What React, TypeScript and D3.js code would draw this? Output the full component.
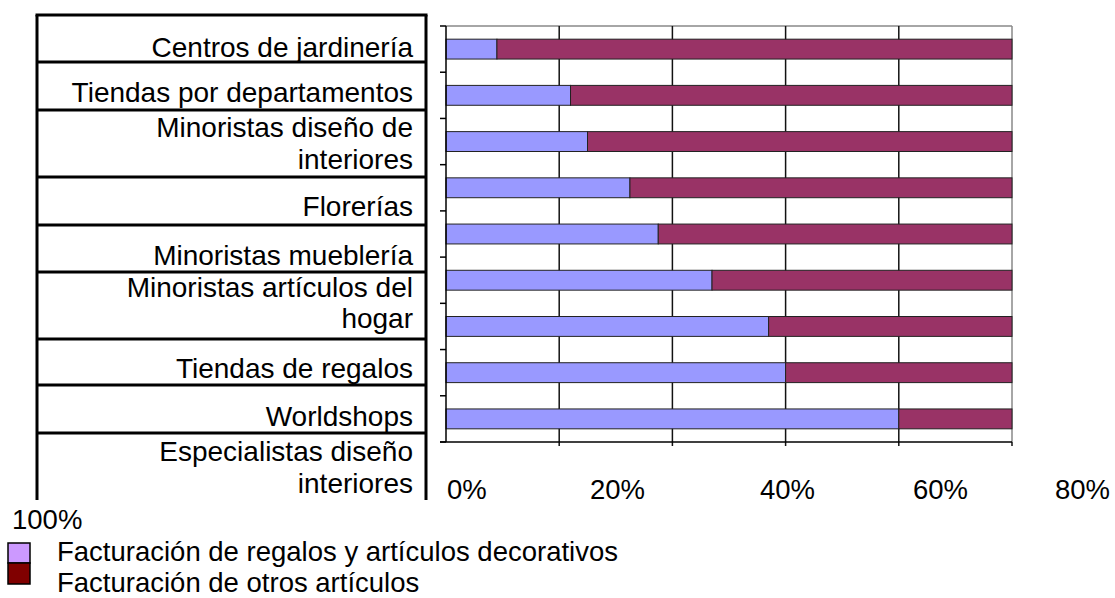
import React from "react";
import * as d3 from "d3";

const categories: string[][] = [
  ["Centros de jardinería"],
  ["Tiendas por departamentos"],
  ["Minoristas diseño de", "interiores"],
  ["Florerías"],
  ["Minoristas mueblería"],
  ["Minoristas artículos del", "hogar"],
  ["Tiendas de regalos"],
  ["Worldshops"],
  ["Especialistas diseño", "interiores"],
];
const giftShare: number[] = [9, 22, 25, 32.5, 37.5, 47, 57, 60, 80];
const otherShare: number[] = giftShare.map((v) => 100 - v);
const tickLabels: string[] = ["0%", "20%", "40%", "60%", "80%", "100%"];
const tickValues: number[] = [0, 20, 40, 60, 80, 100];
const legendLabels: string[] = [
  "Facturación de regalos y artículos decorativos",
  "Facturación de otros artículos",
];

const W = 1115;
const H = 598;
const FONT = "'Liberation Sans', Arial, sans-serif";

// table layout
const tableLeft = 37;
const tableRight = 426;
const tableTop = 15;
const rowLines = [62, 110, 177, 225, 272, 339, 385, 433];
const tableBottom = 500;
const rowBaselines: number[][] = [
  [57],
  [102],
  [137, 169],
  [216],
  [265],
  [297, 328],
  [378],
  [426],
  [461, 493],
];

export default function App() {
  const x = d3.scaleLinear().domain([0, 100]).range([446, 1012]);
  const y = d3
    .scaleBand<number>()
    .domain(d3.range(categories.length))
    .range([26, 442])
    .paddingInner(0.57)
    .paddingOuter(0.285);
  const bandStep = y.step();
  const bandEdges = d3.range(categories.length + 1).map((i) => 26 + i * bandStep);

  return (
    <svg width={W} height={H} style={{ display: "block", position: "absolute", left: 0, top: 0 }} fontFamily={FONT}>
      <rect width={W} height={H} fill="#fff" />
      {/* label table */}
      <line x1={tableLeft - 1.5} x2={tableRight + 1.5} y1={tableTop} y2={tableTop} stroke="#000" strokeWidth={3} />
      <line x1={tableLeft} x2={tableLeft} y1={tableTop} y2={tableBottom} stroke="#000" strokeWidth={3} />
      <line x1={tableRight} x2={tableRight} y1={tableTop} y2={tableBottom} stroke="#000" strokeWidth={3} />
      {rowLines.map((ly, i) => (
        <line key={i} x1={tableLeft} x2={tableRight} y1={ly} y2={ly} stroke="#000" strokeWidth={3} />
      ))}
      {categories.map((lines, i) =>
        lines.map((t, j) => (
          <text key={`${i}-${j}`} x={413} y={rowBaselines[i][j]} fontSize={28} textAnchor="end" fill="#000">
            {t}
          </text>
        ))
      )}

      {/* plot frame */}
      <line x1={x(0)} x2={x(100)} y1={26} y2={26} stroke="#888" strokeWidth={1.5} />
      <line x1={x(100)} x2={x(100)} y1={26} y2={442} stroke="#888" strokeWidth={1.5} />
      {tickValues.slice(1, 5).map((v) => (
        <line key={v} x1={x(v)} x2={x(v)} y1={26} y2={446} stroke="#111" strokeWidth={1.5} />
      ))}
      <line x1={x(100)} x2={x(100)} y1={442} y2={446} stroke="#111" strokeWidth={1.5} />

      {/* bars */}
      {giftShare.map((g, i) => (
        <g key={i}>
          <rect x={x(0)} y={y(i)} width={x(g) - x(0)} height={y.bandwidth()} fill="#9999FF" stroke="#222" strokeWidth={1} />
          <rect x={x(g)} y={y(i)} width={x(g + otherShare[i]) - x(g)} height={y.bandwidth()} fill="#993366" stroke="#222" strokeWidth={1} />
        </g>
      ))}

      {/* axes */}
      <line x1={x(0)} x2={x(0)} y1={26} y2={442} stroke="#000" strokeWidth={1.5} />
      {bandEdges.map((e, i) => (
        <line key={i} x1={x(0) - 6} x2={x(0)} y1={e} y2={e} stroke="#000" strokeWidth={1.5} />
      ))}
      <line x1={x(0) - 6} x2={x(100)} y1={442} y2={442} stroke="#000" strokeWidth={1.5} />

      {/* x tick labels (flowed like the original export) */}
      {tickLabels.slice(0, 5).map((t, i) => (
        <text key={t} x={[447, 590, 760, 913, 1055][i]} y={499} fontSize={27.5} fill="#000">
          {t}
        </text>
      ))}
      <text x={12} y={529} fontSize={27.5} fill="#000">
        {tickLabels[5]}
      </text>

      {/* legend */}
      <rect x={8} y={543} width={22} height={20} fill="#CC99FF" stroke="#000" strokeWidth={1.5} />
      <rect x={8} y={563} width={22} height={21} fill="#800000" stroke="#000" strokeWidth={1.5} />
      <text x={57} y={561} fontSize={27.5} fill="#000">{legendLabels[0]}</text>
      <text x={57} y={592} fontSize={27.5} fill="#000">{legendLabels[1]}</text>
    </svg>
  );
}
